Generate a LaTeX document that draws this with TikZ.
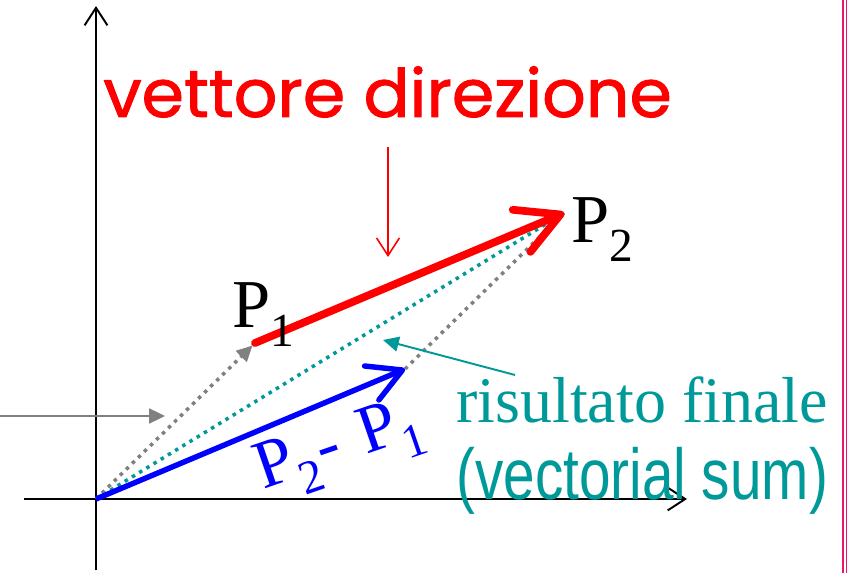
\documentclass[tikz,border=0pt]{standalone}
\usepackage{fontspec}
\usepackage{graphicx}
\setmainfont{Liberation Serif}
\newfontfamily\comicfont[FakeBold=1.3]{Poppins}
\newfontfamily\arialfont{Liberation Sans}
\usetikzlibrary{arrows.meta}
\definecolor{tealc}{RGB}{0,153,153}
\definecolor{pinkc}{RGB}{235,20,110}
\definecolor{grayc}{RGB}{128,128,128}
% point label: P with lowered index
\newcommand{\ptlab}[1]{P\raisebox{-10.8pt}{\fontsize{27}{27}\selectfont #1}}

\begin{document}
\begin{tikzpicture}[
  x=0.02cm, y=-0.02cm,
  every node/.style={inner sep=0pt, anchor=base west},
  axis/.style  = {line width=1.1pt, -{Straight Barb[length=10pt, width=13pt]}},
  redvec/.style  = {line width=4.4pt, red, line cap=round, -{Straight Barb[length=24pt, width=26pt, round]}},
  bluevec/.style = {line width=3.1pt, blue, -{Straight Barb[length=19pt, width=21pt, round]}},
  gdot/.style  = {line width=2pt, grayc, dash pattern=on 2pt off 2.8pt},
  tdot/.style  = {line width=2pt, tealc, dash pattern=on 2pt off 2.8pt},
  pointer/.style = {line width=1.1pt, -{Triangle[length=9pt, width=8.5pt]}},
  ptname/.style = {font=\fontsize{39}{39}\selectfont},
]
  \useasboundingbox (0,0) rectangle (848,573);

  % points
  \coordinate (O)  at (96,499);
  \coordinate (P1) at (255,343);
  \coordinate (P2) at (564,213);
  \coordinate (D)  at (405,369);

  % axes
  \coordinate (xs) at (24,499);
  \coordinate (xe) at (687,499);
  \coordinate (ys) at (96,570);
  \coordinate (ye) at (96,6);
  \draw[axis] (xs) -- (xe);
  \draw[axis] (ys) -- (ye);

  % page border
  \coordinate (b1) at (843,0);
  \coordinate (b2) at (843,573);
  \coordinate (c1) at (846.5,0);
  \coordinate (c2) at (846.5,573);
  \draw[pinkc, line width=1.3pt] (b1) -- (b2);
  \draw[pinkc, line width=0.5pt] (c1) -- (c2);

  % construction lines
  \draw[tdot] (O) -- (P2);
  \draw[gdot] (D) -- (P2);
  \draw[gdot, -{Triangle[length=9pt, width=8.5pt]}, shorten >=2pt] (O) -- (P1);

  % vectors
  \draw[bluevec] (O) -- (D);
  \draw[redvec] (P1) -- (P2);

  % pointers
  \coordinate (gs) at (0,416);
  \coordinate (ge) at (165,416);
  \draw[pointer, grayc] (gs) -- (ge);
  \coordinate (ts) at (515,375);
  \coordinate (te) at (383,340);
  \draw[pointer, tealc] (ts) -- (te);
  \coordinate (rs) at (388,147);
  \coordinate (re) at (388,257);
  \draw[red, line width=0.9pt, -{Straight Barb[length=10pt, width=13pt]}] (rs) -- (re);

  % labels
  \node[red] (dir) at (103,117) {\resizebox{323.6pt}{\height}{\comicfont\fontsize{38}{38}\selectfont vettore direzione}};
  \node[ptname] (l1) at (232,328) {\ptlab{1}};
  \node[ptname] (l2) at (571,243) {\ptlab{2}};
  \node[ptname, blue, rotate=19] (ld) at (263,490) {\ptlab{2}\kern1pt-\kern13pt\ptlab{1}};
  \node[tealc] (res) at (456,423) {\resizebox{211.5pt}{\height}{\fontsize{37}{37}\selectfont risultato finale}};
  \node[tealc] (sum) at (456,500) {\resizebox{211.5pt}{\height}{\arialfont\fontsize{41}{41}\selectfont (vectorial sum)}};
\end{tikzpicture}
\end{document}
